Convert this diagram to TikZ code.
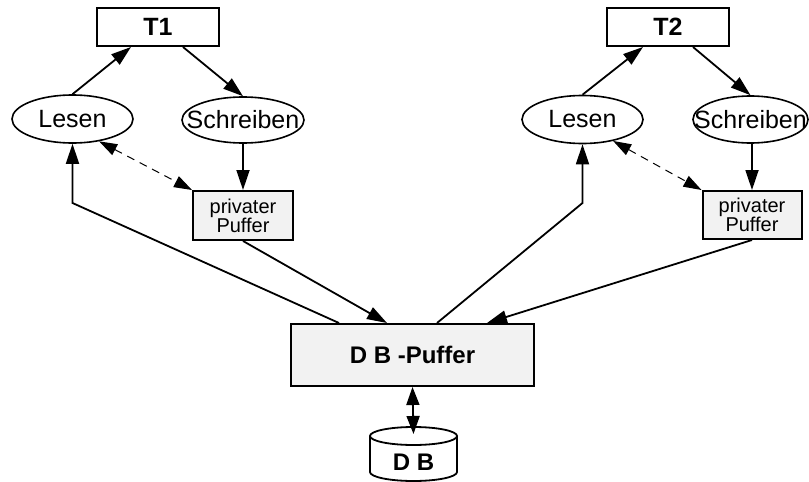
\documentclass[tikz,border=0pt]{standalone}
\usepackage{fontspec}
\setmainfont{Liberation Sans}
\usetikzlibrary{arrows.meta,calc,shapes.geometric}

\tikzset{
  tbox/.style={draw, line width=1pt, fill=white, minimum width=61pt, minimum height=19pt,
               inner sep=0pt, font=\fontsize{12.5}{14}\selectfont\bfseries},
  oval/.style={draw, ellipse, line width=0.8pt, fill=white, inner sep=0pt,
               font=\fontsize{12.5}{14}\selectfont},
  pbox/.style={draw, line width=1pt, fill=black!5, minimum width=50pt, minimum height=24.5pt,
               inner sep=0pt, align=center, font=\fontsize{10}{9.5}\selectfont},
  dbbox/.style={draw, line width=1pt, fill=black!5, minimum width=121.5pt, minimum height=31pt,
               inner sep=0pt, font=\fontsize{12}{14}\selectfont\bfseries},
  conn/.style={line width=0.9pt, -{Triangle[length=10pt,width=6.5pt]}},
  both/.style={line width=0.9pt, {Triangle[length=9pt,width=6.5pt]}-{Triangle[length=9pt,width=6.5pt]}},
  dconn/.style={line width=0.5pt, dash pattern=on 4pt off 3pt,
                {Triangle[length=9pt,width=6pt]}-{Triangle[length=9pt,width=6pt]}},
}
% label whose width does not widen the surrounding ellipse
\newcommand{\ovaltext}[1]{\makebox[0pt][c]{#1}}

\begin{document}
\begin{tikzpicture}[x=0.5pt,y=-0.5pt]
\useasboundingbox (0,0) rectangle (809,482);

% transactions
\node[tbox] (T1) at (158,27) {T1};
\node[tbox] (T2) at (668,27) {T2};

% read / write operations
\node[oval, minimum width=60.5pt, minimum height=24pt] (L1) at (72.5,119) {\ovaltext{Lesen}};
\node[oval, minimum width=61pt, minimum height=23pt] (S1) at (243,120) {\ovaltext{Schreiben}};
\node[oval, minimum width=60.5pt, minimum height=24pt] (L2) at (582.5,119.5) {\ovaltext{Lesen}};
\node[oval, minimum width=57.5pt, minimum height=23.5pt] (S2) at (750.5,119.5) {\ovaltext{Schreiben}};

% private buffers
\node[pbox] (P1) at (243,215.5) {privater\\Puffer};
\node[pbox, minimum width=49.5pt, minimum height=24pt] (P2) at (752,215) {privater\\Puffer};

% database buffer
\node[dbbox] (DBP) at (412.5,355) {D B -Puffer};

% database cylinder
\filldraw[fill=white, line width=0.9pt]
  (370,436) -- (370,472) arc[start angle=180, end angle=360, x radius=21.75pt, y radius=4.5pt]
  -- (457,436);
\draw[fill=white, line width=0.9pt] (413.5,436) ellipse [x radius=21.75pt, y radius=4.5pt];
\node[font=\fontsize{12}{14}\selectfont\bfseries] (DB) at (413.5,462) {D B};
\coordinate (dbtop) at (413.5,434);

% bend points of the long read paths
\coordinate (k1) at (72.5,203);
\coordinate (k2) at (582.5,203);

% left transaction
\draw[conn] (L1.north) -- ($(T1.south)+(-27,0)$);
\draw[conn] ($(T1.south)+(25,0)$) -- (S1.north);
\draw[conn] (S1.south) -- (P1.north);
\draw[dconn] (L1.-40) -- (P1.north west);
\draw[conn] ($(DBP.north west)+(49,0)$) -- (k1) -- (L1.south);
\draw[conn] (P1.south) -- ($(DBP.north)+(-25.5,0)$);

% right transaction
\draw[conn] (L2.north) -- ($(T2.south)+(-25,0)$);
\draw[conn] ($(T2.south)+(25,0)$) -- (S2.north);
\draw[conn] (P2.north |- S2.south) -- (P2.north);
\draw[dconn] (L2.-35) -- (P2.north west);
\draw[conn] ($(DBP.north)+(24.5,0)$) -- (k2) -- (L2.south);
\draw[conn] (P2.south) -- ($(DBP.north)+(74.5,0)$);

% buffer <-> database
\draw[both] (DBP.south) -- (dbtop);
\end{tikzpicture}
\end{document}
